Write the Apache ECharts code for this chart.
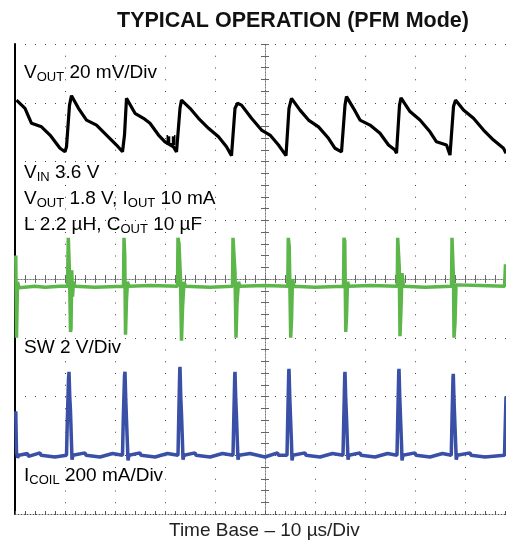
<!DOCTYPE html>
<html>
<head>
<meta charset="utf-8">
<script src="https://cdn.jsdelivr.net/npm/echarts@6/dist/echarts.min.js"></script>
<style>
  html, body { margin: 0; padding: 0; background: #fff; }
  #chart { width: 506px; height: 546px; }
</style>
</head>
<body>
<div id="chart"></div>
<script>
// time in µs, 10 µs/div
// V_OUT ripple in mV (AC coupled, 20 mV/div)
const voutTrace = [
  [0.3, 20.9], [0.5, 21.5], [2.0, 18.1], [3.3, 13.0], [4.3, 12.4], [5.3, 11.8], [7.0, 9.0], [9.0, 4.5], [10.0, 3.3],
  [10.3, 5.0], [10.9, 19.2], [11.3, 22.4], [12.7, 18.1], [14.3, 14.1], [16.3, 12.4], [18.3, 9.0], [20.3, 5.6],
  [21.5, 3.3], [21.9, 9.0], [22.3, 21.5], [24.0, 16.4], [25.7, 14.7], [27.0, 13.0], [28.7, 9.0], [30.0, 6.7],
  [31.7, 5.0], [32.3, 3.3], [33.0, 18.1], [33.3, 20.9], [35.0, 18.1], [36.7, 14.7], [38.7, 11.3], [40.7, 8.4],
  [42.3, 5.0], [43.3, 2.0], [44.0, 18.1], [44.5, 19.8], [45.3, 19.2], [47.3, 14.7], [49.3, 10.7], [51.0, 9.0],
  [52.7, 5.6], [54.2, 2.0], [54.8, 18.1], [55.3, 21.5], [57.0, 17.5], [58.7, 14.1], [60.7, 11.8], [62.7, 7.9],
  [64.0, 4.5], [65.3, 3.3], [66.0, 19.2], [66.3, 22.1], [67.7, 18.1], [69.0, 14.1], [71.0, 12.4], [73.0, 9.6],
  [74.7, 5.6], [76.0, 3.9], [76.3, 2.8], [76.9, 19.2], [77.2, 21.7], [79.0, 17.0], [81.0, 14.1], [83.0, 10.1],
  [84.3, 6.7], [86.3, 5.6], [87.0, 2.2], [87.7, 18.7], [88.1, 20.9], [89.7, 17.5], [91.7, 14.7], [93.7, 10.7],
  [95.7, 7.3], [97.7, 4.5], [98.2, 2.8]
];

// SW node in V (2 V/div)
const swTrace = [
  [0.15, 2.8], [0.3, 0.0], [0.5, 1.9], [0.8, 1.7], [4.0, 1.75], [6.0, 1.72], [9.0, 1.75],
  [10.5, 1.75], [10.66, 3.4], [10.8, 3.35], [10.9, 2.2], [11.1, 0.2], [11.2, 0.3], [11.35, 2.3], [11.5, 1.4], [11.7, 1.9], [12.0, 1.75],
  [16.0, 1.72], [21.7, 1.75], [21.8, 3.4], [21.95, 2.8], [22.1, 0.1], [22.3, 1.3], [22.5, 1.9], [22.8, 1.75],
  [27.0, 1.78], [32.5, 1.75], [32.6, 3.4], [32.8, 3.2], [33.1, 2.0], [33.3, -0.1], [33.5, 1.0], [33.8, 1.9], [34.1, 1.75],
  [39.0, 1.72], [43.5, 1.75], [43.6, 3.4], [43.8, 3.35], [44.0, 2.2], [44.2, 0.0], [44.4, 1.2], [44.7, 1.9], [45.0, 1.75],
  [50.0, 1.78], [54.55, 1.75], [54.66, 3.4], [54.85, 3.1], [55.0, 1.5], [55.14, 0.0], [55.3, 0.6], [55.5, 2.0], [55.8, 1.75],
  [60.0, 1.72], [65.7, 1.75], [65.8, 3.4], [65.95, 3.3], [66.05, 1.8], [66.15, 0.2], [66.3, 0.7], [66.5, 1.9], [66.8, 1.75],
  [71.0, 1.78], [76.45, 1.75], [76.54, 3.4], [76.7, 3.35], [76.85, 2.4], [77.0, 0.05], [77.2, 1.0], [77.4, 2.2], [77.7, 1.75],
  [82.0, 1.72], [87.3, 1.75], [87.4, 3.4], [87.55, 3.4], [87.7, 2.0], [87.8, 0.0], [88.0, 0.5], [88.2, 1.8], [88.5, 1.75],
  [93.0, 1.78], [97.9, 1.75], [98.1, 2.5]
];

// inductor current in mA (200 mA/div)
const coilTrace = [
  [0.15, 150], [0.3, 10], [0.5, -8], [0.8, 0], [2.5, 6], [2.7, -4], [5.0, 8], [5.2, 0], [8.0, -6], [8.2, 0],
  [10.3, 0], [10.45, 110], [10.7, 260], [10.8, 284], [10.95, 200], [11.1, 150], [11.3, 40], [11.4, -15], [11.6, 0],
  [14.0, 8], [14.2, 0], [17.0, -6], [17.2, 0], [19.5, 6], [19.7, 0],
  [21.5, 0], [21.65, 120], [21.9, 270], [22.0, 284], [22.15, 190], [22.3, 120], [22.5, 30], [22.6, -18], [22.8, 0],
  [25.0, 8], [25.2, 0], [28.0, -6], [28.2, 0], [30.5, 6], [30.7, 0],
  [32.6, 0], [32.75, 130], [32.95, 290], [33.0, 301], [33.15, 200], [33.3, 140], [33.5, 40], [33.6, -15], [33.8, 0],
  [36.0, 8], [36.2, 0], [39.0, -6], [39.2, 0], [41.5, 6], [41.7, 0],
  [43.6, 0], [43.75, 120], [43.95, 275], [44.0, 284], [44.15, 190], [44.3, 130], [44.5, 30], [44.6, -15], [44.8, 0],
  [47.0, 6], [47.2, 0], [50.0, -6], [50.2, 0], [52.5, 8], [52.7, 0],
  [54.4, 0], [54.55, 130], [54.75, 285], [54.8, 294], [54.95, 200], [55.1, 130], [55.3, 40], [55.4, -18], [55.6, 0],
  [58.0, 8], [58.2, 0], [61.0, -6], [61.2, 0], [63.5, 6], [63.7, 0],
  [65.6, 0], [65.75, 120], [65.95, 275], [66.0, 284], [66.15, 190], [66.3, 130], [66.5, 30], [66.6, -15], [66.8, 0],
  [69.0, 8], [69.2, 0], [72.0, -6], [72.2, 0], [74.5, 6], [74.7, 0],
  [76.4, 0], [76.55, 130], [76.75, 285], [76.8, 294], [76.95, 200], [77.1, 130], [77.3, 40], [77.4, -18], [77.6, 0],
  [80.0, 8], [80.2, 0], [83.0, -6], [83.2, 0], [85.5, 6], [85.7, 0],
  [87.25, 0], [87.4, 120], [87.6, 265], [87.66, 277], [87.8, 190], [87.95, 120], [88.15, 30], [88.25, -15], [88.45, 0],
  [91.0, 8], [91.2, 0], [94.0, -6], [94.2, 0], [97.9, 0], [98.2, 200]
];

const titleText = 'TYPICAL OPERATION (PFM Mode)';
const xAxisText = 'Time Base \u2013 10 \u00b5s/Div';
const notes = [
  { text: '{m|V}{s|OUT}{m| 20 mV/Div}', top: 63 },
  { text: '{m|V}{s|IN}{m| 3.6 V}', top: 163 },
  { text: '{m|V}{s|OUT}{m| 1.8 V, I}{s|OUT}{m| 10 mA}', top: 189 },
  { text: '{m|L 2.2 \u00b5H, C}{s|OUT}{m| 10 \u00b5F}', top: 215 },
  { text: '{m|SW 2 V/Div}', top: 338 },
  { text: '{m|I}{s|COIL}{m| 200 mA/Div}', top: 466 }
];

const FONT = '"Liberation Sans", Arial, Helvetica, sans-serif';
const richStyle = {
  m: { fontSize: 19, fontFamily: FONT, color: '#222', verticalAlign: 'top', lineHeight: 22 },
  s: { fontSize: 13, fontFamily: FONT, color: '#222', verticalAlign: 'top', lineHeight: 22, padding: [8, 0, 0, 0] }
};

let mychart = echarts.init(document.getElementById('chart'));

let centerAxis = (inside) => ({
  type: 'value', min: 0, max: 100, interval: 2, position: 'bottom', offset: -235,
  axisLine: { show: true, lineStyle: { color: '#777', width: 1, type: [1, 2] } },
  axisTick: { show: true, inside: inside, length: 4, lineStyle: { color: '#666' } },
  axisLabel: { show: false }, splitLine: { show: false }
});
let centerYAxis = (inside) => ({
  type: 'value', min: 0, max: 8, interval: 0.2, position: 'left', offset: -250,
  axisLine: { show: true, lineStyle: { color: '#777', width: 1, type: [1, 2] } },
  axisTick: { show: true, inside: inside, length: 4, lineStyle: { color: '#666' } },
  axisLabel: { show: false }, splitLine: { show: false }
});

let option = {
  animation: false,
  backgroundColor: '#fff',
  grid: { left: 15, right: -9, top: 44, bottom: 32, outerBoundsMode: 'none', containLabel: false },
  xAxis: [
    {
      type: 'value', min: 0, max: 100, interval: 10, position: 'bottom',
      axisLine: { show: true, lineStyle: { color: '#555', width: 1, type: [1, 2] } },
      axisTick: { show: true, inside: true, length: 3, lineStyle: { color: '#555' } },
      minorTick: { show: true, splitNumber: 5, length: 3, lineStyle: { color: '#555' } },
      axisLabel: { show: false },
      splitLine: { show: true, lineStyle: { color: '#444', width: 1, type: [1, 10.75] } }
    },
    centerAxis(false),
    centerAxis(true)
  ],
  yAxis: [
    {
      type: 'value', min: 0, max: 8, interval: 1, position: 'left',
      axisLine: { show: true, lineStyle: { color: '#000', width: 2 } },
      axisTick: { show: false }, axisLabel: { show: false },
      splitLine: { show: true, lineStyle: { color: '#444', width: 1, type: [1, 9] } }
    },
    { type: 'value', min: -120, max: 40, show: false },   // V_OUT mV
    { type: 'value', min: -6, max: 10, show: false },     // SW V
    { type: 'value', min: -200, max: 1400, show: false }, // I_COIL mA
    centerYAxis(false),
    centerYAxis(true)
  ],
  graphic: [
    {
      type: 'text', left: 117, top: 10, z: 10,
      style: { text: titleText, font: 'bold 21.5px ' + FONT, fill: '#111' }
    },
    {
      type: 'text', left: 169, top: 521, z: 10,
      style: { text: xAxisText, font: '19px ' + FONT, fill: '#222' }
    }
  ].concat(notes.map((n) => ({
    type: 'text', left: 24, top: n.top, z: 10,
    style: { text: n.text, rich: richStyle }
  }))),
  series: [
    {
      name: 'VOUT', type: 'line', xAxisIndex: 0, yAxisIndex: 1,
      data: voutTrace, showSymbol: false, z: 5,
      lineStyle: { color: '#000', width: 3.2 },
      markPoint: {
        symbol: 'rect', symbolSize: [9, 10], itemStyle: { color: '#000' },
        label: { show: true, formatter: 'T', color: '#fff', fontSize: 10, fontWeight: 'bold' },
        data: [{ coord: [31.2, 7.3] }]
      }
    },
    {
      name: 'SW', type: 'line', xAxisIndex: 0, yAxisIndex: 2,
      data: swTrace, showSymbol: false, z: 4,
      lineStyle: { color: '#5cb64a', width: 3.5 },
      markPoint: {
        symbol: 'none',
        label: { show: true, formatter: 'T', color: '#5cb64a', fontSize: 11 },
        data: [{ coord: [31.0, 2.3] }]
      }
    },
    {
      name: 'ICOIL', type: 'line', xAxisIndex: 0, yAxisIndex: 3,
      data: coilTrace, showSymbol: false, z: 4,
      lineStyle: { color: '#3a4fa6', width: 3.5 },
      markPoint: {
        symbol: 'none',
        label: { show: true, formatter: 'T', color: '#3a4fa6', fontSize: 11 },
        data: [{ coord: [31.4, 40] }]
      }
    }
  ]
};

mychart.setOption(option);
window.addEventListener('resize', () => {
  mychart.resize();
});
</script>
</body>
</html>
